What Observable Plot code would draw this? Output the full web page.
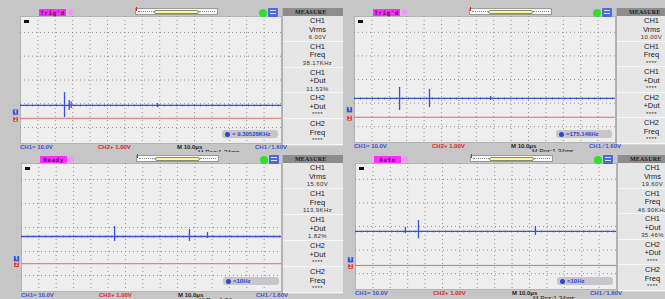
<!DOCTYPE html>
<html><head><meta charset="utf-8">
<script src="https://cdn.jsdelivr.net/npm/d3@7"></script>
<script src="https://cdn.jsdelivr.net/npm/@observablehq/plot@0.6"></script>
<style>
body{margin:0;background:#fff;}
#root{position:relative;width:665px;height:299px;overflow:hidden;background:#c6c6c6;font-family:"Liberation Sans",Arial,sans-serif;}
.panel{position:absolute;overflow:hidden;background:#c6c6c6;}
.panel svg{position:absolute;left:0;top:0;}
.abs{position:absolute;}
.status{background:#ff2cff;color:#6a0a6a;font:bold 6px "DejaVu Sans Mono",monospace;line-height:7px;text-align:center;letter-spacing:0.5px;}
.pen{background:#ff8cff;border-radius:50% 50% 50% 0;transform:rotate(-30deg);}
.tl{background:#fafafa;border:1px solid #9a9a9a;box-sizing:border-box;}
.pill{background:#fbf79a;border:1px solid #8a8a6a;border-radius:3px;box-sizing:border-box;}
.wave{height:3px;border-bottom:1px dotted #888;box-sizing:border-box;}
.gdot{background:#2ee02e;border-radius:50%;}
.bicon{background:#4c68e4;border-radius:1px;}
.side{background:#d9d9d9;border-left:1px solid #b0b0b0;box-sizing:border-box;}
.hdr{background:#8d8d8d;color:#1c1c1c;font:bold 6px "Liberation Serif",serif;text-align:left;padding-left:12px;line-height:8px;letter-spacing:0.2px;}
.box{background:#e6e6e6;border-bottom:1px solid #f7f7f7;box-sizing:border-box;text-align:center;color:#222;}
.l1{font:7.5px "Liberation Sans",Arial,sans-serif;line-height:8.5px;padding-top:1px;}
.val{font:6px "Liberation Sans",Arial,sans-serif;line-height:7px;letter-spacing:0.4px;color:#333;}
.bot{font:bold 6px "Liberation Sans",Arial,sans-serif;line-height:7px;white-space:nowrap;}
.ro{background:#c6c6cc;border-radius:3px;font:bold 6px "Liberation Sans",Arial,sans-serif;color:#2f48d0;line-height:8px;white-space:nowrap;}
.roi{display:inline-block;width:5px;height:5px;border-radius:50%;background:#2f48d0;margin:0 2px 0 3px;vertical-align:-0.5px;}
.trg{background:#111;}
</style></head><body><div id="root"></div>
<script>
// ---- data read from the four oscilloscope screens ----
const statuses = ["Trig'd", "Trig'd", "Ready", "Auto"];
const measureChannels = ["CH1", "CH1", "CH1", "CH2", "CH2"];
const measureNames = ["Vrms", "Freq", "+Dut", "+Dut", "Freq"];
const ch1Vrms = ["6.00V", "10.00V", "15.60V", "19.60V"];
const ch1Freq = ["38.17KHz", "****", "113.9KHz", "46.90KHz"];
const ch1Dut = ["11.53%", "****", "1.82%", "35.46%"];
const ch2Dut = ["****", "****", "****", "****"];
const ch2Freq = ["****", "****", "****", "****"];
const counterReadouts = ["= 9.30528KHz", "=175.146Hz", "<10Hz", "<10Hz"];
const bottomLabels = ["CH1= 10.0V", "CH2+ 1.00V", "M 10.0\u03bcs", "CH1 \u2215 1.60V"];
const mPos = "M Pos:1.34ms";
// trace levels in volts (CH1 scale 10 V/div), time in microseconds (10 us/div)
const ch1Levels = [-10.7, -8.0, -3.75, -2.1];
const ch2Levels = [-16.1, -16.0, -15.1, -16.5];
const ch1Grounds = [-13.5, -12.8, -13.0, -14.1];
const spikeTimes = [[-49.7, -47.0, -45.9, 3.7], [-49.1, -31.9, 3.2], [-21.3, 21.9, 32.3], [-46.3, -38.8, 28.4]];
const spikeHighs = [[-5.3, -8.6, -9.3, -9.9], [-3.4, -4.2, -7.2], [0.4, -0.8, -2.1], [-0.4, 2.5, 0.0]];
const spikeLows = [[-15.8, -12.8, -12.0, -11.6], [-13.1, -11.9, -8.9], [-5.8, -5.8, -4.6], [-3.0, -5.2, -3.8]];
const timeTicks = [-65, -55, -45, -35, -25, -15, -5, 5, 15, 25, 35, 45, 55, 65];
const voltTicks = [-20, -10, 0, 10, 20];
const timeDomain = [-75, 75];
const voltDomain = [-26.7, 26.7];

// ---- layout (screen placement of the four screenshots) ----
const layouts = [
  {left: 0, top: 0, w: 352, h: 152, gl: 20, gt: 16, gw: 261, gh: 127, z: 3},
  {left: 343, top: 0, w: 342, h: 152, gl: 11, gt: 16, gw: 261, gh: 126, z: 4},
  {left: 0, top: 147, w: 352, h: 152, gl: 21, gt: 16, gw: 260, gh: 128, z: 1},
  {left: 343, top: 147, w: 342, h: 152, gl: 12, gt: 16, gw: 261, gh: 126, z: 2}
];
const BLUE = "#3b50d8", RED = "#e46a6a";
const root = document.getElementById("root");

function el(parent, cls, css, text) {
  const d = document.createElement("div");
  d.className = cls;
  Object.assign(d.style, css);
  if (text != null) d.textContent = text;
  parent.appendChild(d);
  return d;
}
const px = v => v + "px";

layouts.forEach((L, i) => {
  const p = el(root, "panel", {left: px(L.left), top: px(L.top), width: px(L.w), height: px(L.h), zIndex: L.z});
  const spikes = spikeTimes[i].map((t, k) => ({t, hi: spikeHighs[i][k], lo: spikeLows[i][k]}));
  const svg = Plot.plot({
    width: L.w, height: L.h,
    marginLeft: L.gl, marginTop: L.gt,
    marginRight: L.w - L.gl - L.gw, marginBottom: L.h - L.gt - L.gh,
    x: {domain: timeDomain, axis: null},
    y: {domain: voltDomain, axis: null},
    style: {background: "transparent", overflow: "visible"},
    marks: [
      Plot.frame({fill: "#eeeeee", stroke: "#b4b4b4"}),
      Plot.gridX(timeTicks, {stroke: "#8a8a8a", strokeOpacity: 0.9, strokeDasharray: "1,3"}),
      Plot.gridY(voltTicks, {stroke: "#8a8a8a", strokeOpacity: 0.9, strokeDasharray: "1,3"}),
      Plot.ruleY([ch2Levels[i]], {stroke: RED, strokeWidth: 1}),
      Plot.ruleY([ch1Levels[i]], {stroke: BLUE, strokeWidth: 1.3}),
      Plot.ruleY([ch1Levels[i]], {stroke: BLUE, strokeWidth: 2.6, strokeOpacity: 0.45, strokeDasharray: "1,5"}),
      Plot.ruleX(spikes, {x: "t", y1: "lo", y2: "hi", stroke: BLUE, strokeWidth: 1.3}),
      Plot.dot([{g: ch1Grounds[i]}], {x: () => timeDomain[0], y: "g", dx: -5, symbol: "square", r: 3, fill: BLUE, clip: false}),
      Plot.text([{g: ch1Grounds[i]}], {x: () => timeDomain[0], y: "g", dx: -5, text: () => "1", fill: "#dfe4ff", fontSize: 5, fontWeight: "bold"}),
      Plot.dot([{g: ch2Levels[i]}], {x: () => timeDomain[0], y: "g", dx: -5, dy: 1, symbol: "square", r: 2.6, fill: "#e22a2a"}),
      Plot.text([{g: ch2Levels[i]}], {x: () => timeDomain[0], y: "g", dx: -5, dy: 1, text: () => "2", fill: "#ffe0e0", fontSize: 4.5, fontWeight: "bold"})
    ]
  });
  p.appendChild(svg);

  const gl = L.gl, gt = L.gt;
  // top strip
  el(p, "abs status", {left: px(gl + 19), top: px(gt - 7), width: px(27), height: px(7)}, statuses[i]);
  el(p, "abs pen", {left: px(gl + 48), top: px(gt - 7), width: px(5), height: px(6)});
  const tl = el(p, "abs tl", {left: px(gl + 115), top: px(gt - 8), width: px(83), height: px(7)});
  el(tl, "abs wave", {left: px(2), top: px(0), width: px(16)});
  el(tl, "abs wave", {left: px(63), top: px(0), width: px(16)});
  el(tl, "abs pill", {left: px(18), top: px(1), width: px(45), height: px(4)});
  el(tl, "abs", {left: px(0), top: px(-2), width: px(1), height: px(4), background: "#e02020"});
  el(p, "abs gdot", {left: px(gl + 238.5), top: px(gt - 7), width: px(8), height: px(8)});
  const bi = el(p, "abs bicon", {left: px(gl + 248), top: px(gt - 8), width: px(10), height: px(9)});
  el(bi, "abs", {left: px(2), top: px(2), width: px(6), height: px(1), background: "#dfe6ff"});
  el(bi, "abs", {left: px(2), top: px(5), width: px(6), height: px(1), background: "#dfe6ff"});
  el(p, "abs trg", {left: px(gl + 4), top: px(gt + 4), width: px(5), height: px(3)});

  // measure sidebar
  const side = el(p, "abs side", {left: px(gl + L.gw + 1), top: px(gt - 8), width: px(70), height: px(L.gh + 11)});
  el(side, "hdr", {}, "MEASURE");
  const vals = [ch1Vrms[i], ch1Freq[i], ch1Dut[i], ch2Dut[i], ch2Freq[i]];
  const bh = (L.gh + 2) / 5;
  measureChannels.forEach((c, k) => {
    const b = el(side, "box", {height: px(bh)});
    el(b, "l1", {}, c);
    el(b, "l1", {paddingTop: "0px"}, measureNames[k]);
    el(b, "val", {}, vals[k]);
  });

  // counter readout
  const ro = el(p, "abs ro", {left: px(gl + 202), top: px(gt + 114), width: px(56), height: px(8)});
  el(ro, "roi", {});
  ro.appendChild(document.createTextNode(counterReadouts[i]));

  // bottom status line
  const bx = [0, 78, 157, 235];
  const bc = [BLUE, "#e02424", "#222", BLUE];
  bottomLabels.forEach((t, k) => el(p, "abs bot", {left: px(gl + bx[k]), top: px(gt + L.gh + 1), color: bc[k]}, t));
  el(p, "abs bot", {left: px(gl + 178), top: px(gt + L.gh + 6), color: "#222", fontWeight: "normal", fontSize: "6.5px"}, mPos);
});
</script></body></html>
